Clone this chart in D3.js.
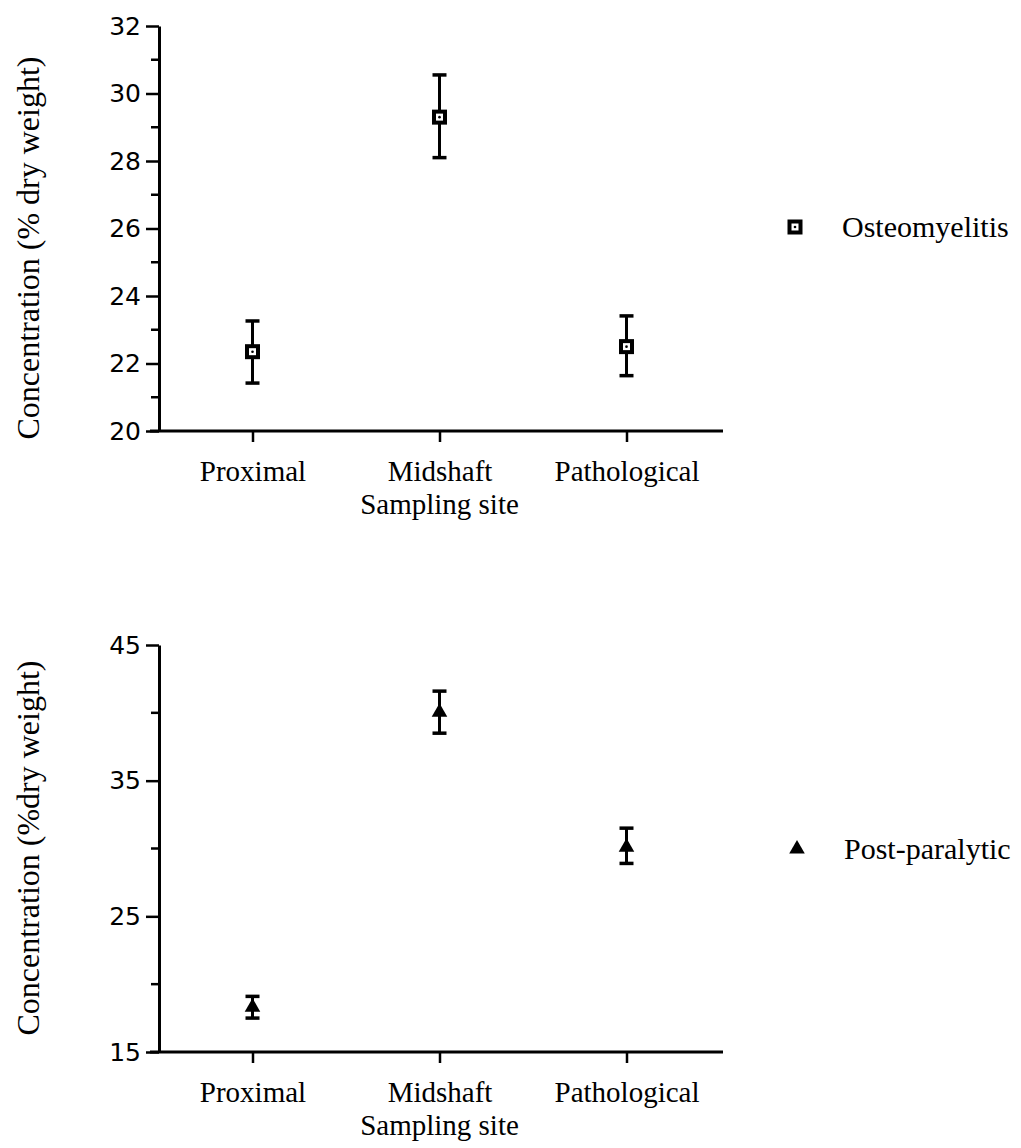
<!DOCTYPE html>
<html>
<head>
<meta charset="utf-8">
<script src="https://cdn.jsdelivr.net/npm/d3@7"></script>
<style>
  body { margin: 0; background: #fff; }
  svg { display: block; }
</style>
</head>
<body>
<svg id="chart" width="1021" height="1148"></svg>
<script>
// sampling sites on the x axis
let sites = ["Proximal", "Midshaft", "Pathological"];

// osteomyelitis series (mean and error bar ends)
let osteoMean = [22.35, 29.3, 22.5];
let osteoUpper = [23.26, 30.55, 23.41];
let osteoLower = [21.42, 28.1, 21.64];

// post-paralytic series
let postMean = [18.3, 40.05, 30.1];
let postUpper = [19.1, 41.6, 31.5];
let postLower = [17.5, 38.5, 28.9];

// y axis ticks for both panels
let topTicks = [20, 22, 24, 26, 28, 30, 32];
let topMinor = [21, 23, 25, 27, 29, 31];
let botTicks = [15, 25, 35, 45];
let botMinor = [20, 30, 40];

let svg = d3.select("#chart");
let serif = "'Liberation Serif', 'Times New Roman', serif";
let sans = "'DejaVu Sans', sans-serif";

// shared x scale
let x = d3.scalePoint().domain(sites).range([159, 720]).padding(0.5);

// draw one panel
function panel(opts) {
    let y = d3.scaleLinear().domain(opts.domain).range([opts.bottom, opts.top]);
    let g = svg.append("g");

    // y axis with major ticks and labels
    let yAxis = g.append("g")
    .attr("transform", "translate(159,0)")
    .call(d3.axisLeft(y).tickValues(opts.ticks).tickSize(13).tickSizeOuter(0).tickPadding(5));
    yAxis.select(".domain").attr("stroke-width", 3);
    yAxis.selectAll(".tick line").attr("stroke-width", 2.5);
    yAxis.selectAll(".tick text")
    .attr("font-family", sans)
    .attr("font-size", 25)
    .attr("fill", "#000");

    // minor ticks
    g.selectAll(".minor")
    .data(opts.minor)
    .enter().append("line")
    .attr("x1", 151)
    .attr("x2", 159)
    .attr("y1", d => y(d))
    .attr("y2", d => y(d))
    .attr("stroke", "black")
    .attr("stroke-width", 2.5);

    // x axis
    let xAxis = g.append("g")
    .attr("transform", "translate(0," + opts.bottom + ")")
    .call(d3.axisBottom(x).tickSize(11).tickSizeOuter(0).tickPadding(18));
    xAxis.select(".domain").attr("stroke-width", 3).attr("d", "M150,0H723");
    xAxis.selectAll(".tick line").attr("stroke-width", 2.5);
    xAxis.selectAll(".tick text")
    .attr("font-family", serif)
    .attr("font-size", 29)
    .attr("fill", "#000");

    // x axis title under the middle label
    g.append("text")
    .attr("x", x("Midshaft"))
    .attr("y", opts.bottom + 83)
    .attr("text-anchor", "middle")
    .attr("font-family", serif)
    .attr("font-size", 29)
    .text("Sampling site");

    // y axis title
    g.append("text")
    .attr("transform", "translate(39," + opts.titleY + ") rotate(-90)")
    .attr("text-anchor", "middle")
    .attr("font-family", serif)
    .attr("font-size", 32)
    .text(opts.yTitle);

    // error bars
    sites.forEach(function (s, i) {
        let cx = x(s);
        g.append("line")
        .attr("x1", cx).attr("x2", cx)
        .attr("y1", y(opts.upper[i])).attr("y2", y(opts.lower[i]))
        .attr("stroke", "black").attr("stroke-width", 3);
        [opts.upper[i], opts.lower[i]].forEach(function (v) {
            g.append("line")
            .attr("x1", cx - 7).attr("x2", cx + 7)
            .attr("y1", y(v)).attr("y2", y(v))
            .attr("stroke", "black").attr("stroke-width", 3.5);
        });
        opts.marker(g, cx, y(opts.mean[i]));
    });

    // legend
    opts.marker(g, opts.legendX, opts.legendY);
    g.append("text")
    .attr("x", opts.legendX + 47)
    .attr("y", opts.legendY + 10)
    .attr("font-family", serif)
    .attr("font-size", 30)
    .text(opts.name);
}

// open square with a dot in the middle
function squareMarker(g, cx, cy) {
    g.append("rect")
    .attr("x", cx - 5.5).attr("y", cy - 5.5)
    .attr("width", 11).attr("height", 11)
    .attr("fill", "white")
    .attr("stroke", "black")
    .attr("stroke-width", 4);
    g.append("circle")
    .attr("cx", cx).attr("cy", cy).attr("r", 1.3)
    .attr("fill", "black");
}

// filled triangle
function triangleMarker(g, cx, cy) {
    g.append("path")
    .attr("transform", "translate(" + cx + "," + cy + ")")
    .attr("d", d3.symbol().type(d3.symbolTriangle).size(105)())
    .attr("fill", "black");
}

panel({
    domain: [20, 32], bottom: 431, top: 26,
    ticks: topTicks, minor: topMinor,
    upper: osteoUpper, lower: osteoLower, mean: osteoMean,
    marker: squareMarker,
    yTitle: "Concentration (% dry weight)", titleY: 248,
    name: "Osteomyelitis", legendX: 795, legendY: 227
});

panel({
    domain: [15, 45], bottom: 1052, top: 645,
    ticks: botTicks, minor: botMinor,
    upper: postUpper, lower: postLower, mean: postMean,
    marker: triangleMarker,
    yTitle: "Concentration (%dry weight)", titleY: 848,
    name: "Post-paralytic", legendX: 797, legendY: 849
});
</script>
</body>
</html>
